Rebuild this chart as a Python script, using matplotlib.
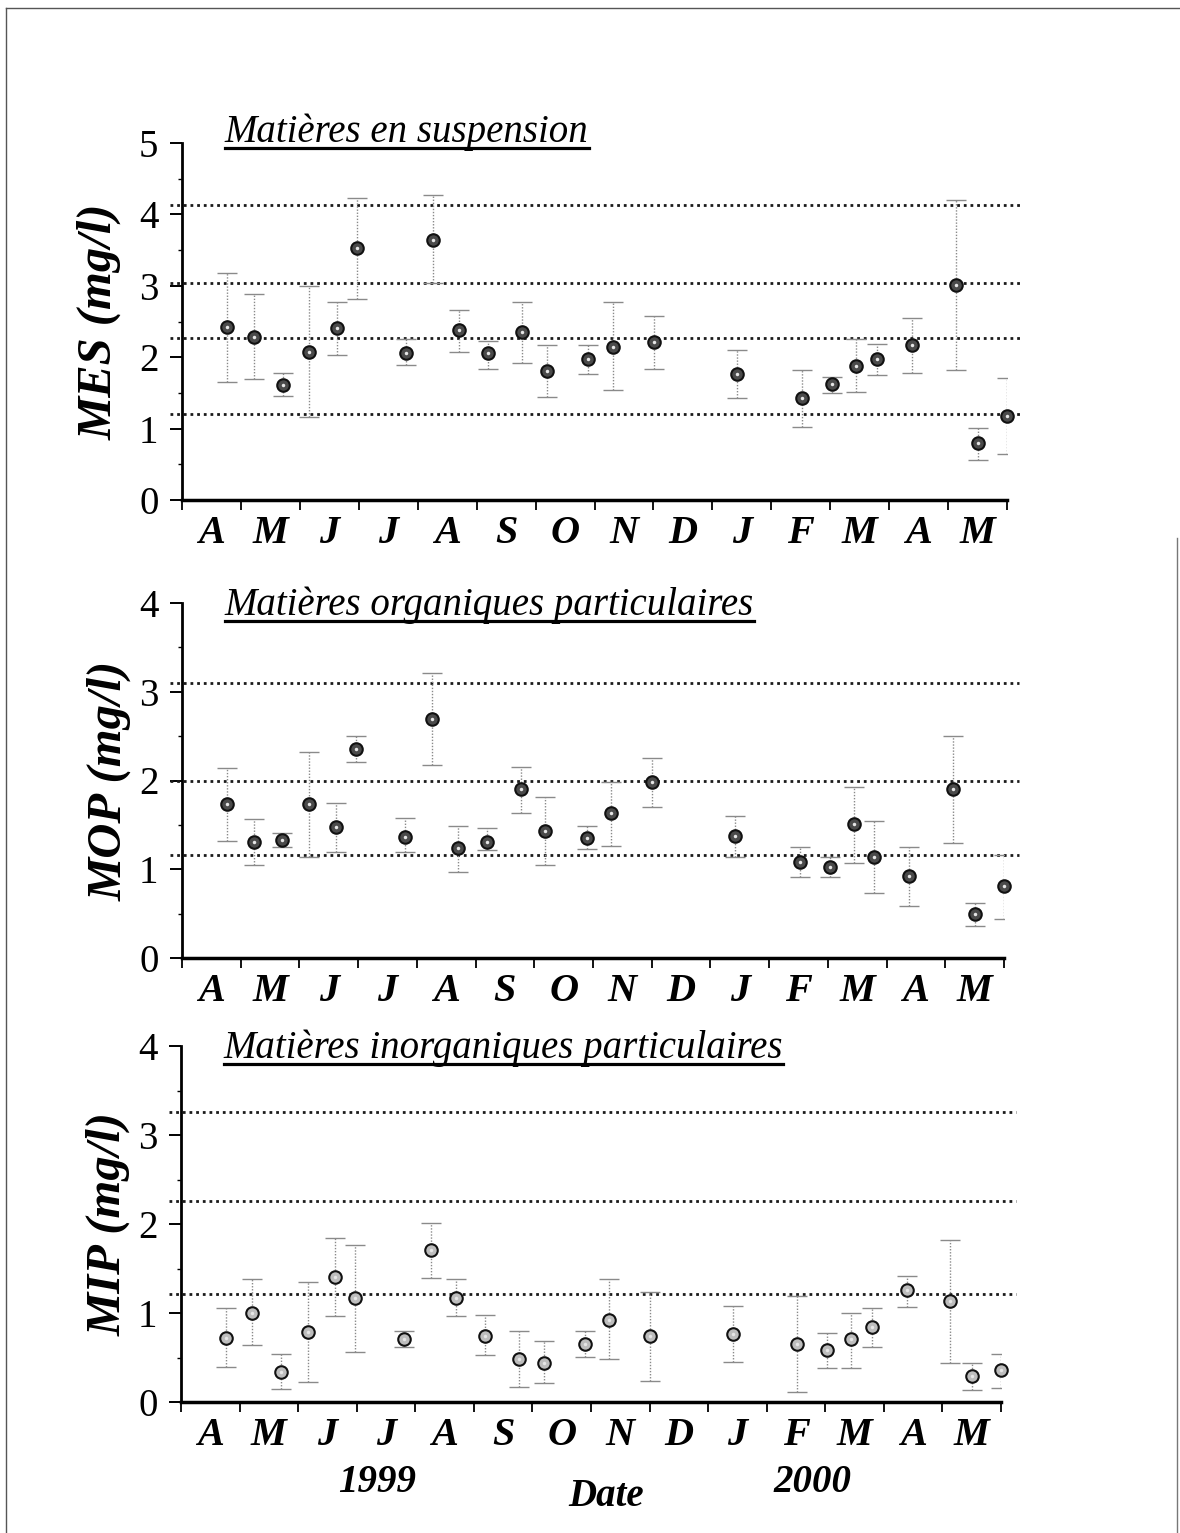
import matplotlib
matplotlib.use("Agg")
import matplotlib.pyplot as plt
import numpy as np
from matplotlib.lines import Line2D
from matplotlib.ticker import MultipleLocator, FixedLocator

plt.rcParams['font.family'] = ['Liberation Serif', 'DejaVu Serif']

# ---- data ----------------------------------------------------------------
# month labels, April 1999 -> May 2000
months = ['A', 'M', 'J', 'J', 'A', 'S', 'O', 'N', 'D', 'J', 'F', 'M', 'A', 'M']

# sampling dates, expressed in months since 1 April 1999
sample_t = [0.76, 1.22, 1.71, 2.16, 2.63, 2.97, 3.80, 4.26, 4.70, 5.19, 5.77, 6.19,
            6.89, 7.31, 8.01, 9.42, 10.52, 11.03, 11.44, 11.79, 12.39, 13.13, 13.51, 14.0]

# MES : matieres en suspension (mg/l)
mes_mean = [2.42, 2.28, 1.61, 2.07, 2.41, 3.53, 2.06, 3.64, 2.38, 2.06, 2.35, 1.81,
            1.97, 2.14, 2.21, 1.76, 1.43, 1.62, 1.88, 1.97, 2.17, 3.01, 0.80, 1.18]
mes_high = [3.18, 2.89, 1.78, 3.00, 2.77, 4.23, 2.25, 4.27, 2.66, 2.22, 2.77, 2.17,
            2.17, 2.77, 2.58, 2.10, 1.82, 1.72, 2.25, 2.19, 2.55, 4.20, 1.01, 1.71]
mes_low = [1.65, 1.69, 1.46, 1.16, 2.03, 2.82, 1.89, 3.04, 2.07, 1.84, 1.92, 1.44,
           1.76, 1.54, 1.83, 1.43, 1.02, 1.50, 1.51, 1.75, 1.78, 1.82, 0.56, 0.64]
mes_lines = [4.13, 3.04, 2.27, 1.20]

# MOP : matieres organiques particulaires (mg/l)
mop_mean = [1.74, 1.31, 1.33, 1.74, 1.48, 2.35, 1.36, 2.69, 1.24, 1.31, 1.90, 1.43,
            1.35, 1.63, 1.98, 1.37, 1.08, 1.03, 1.51, 1.14, 0.92, 1.90, 0.50, 0.81]
mop_high = [2.14, 1.57, 1.41, 2.32, 1.75, 2.50, 1.58, 3.21, 1.49, 1.46, 2.15, 1.81,
            1.49, 1.98, 2.25, 1.60, 1.25, 1.14, 1.93, 1.54, 1.25, 2.50, 0.62, 1.16]
mop_low = [1.32, 1.05, 1.25, 1.14, 1.19, 2.21, 1.19, 2.17, 0.97, 1.22, 1.63, 1.05,
           1.23, 1.26, 1.70, 1.14, 0.91, 0.91, 1.07, 0.73, 0.59, 1.30, 0.36, 0.44]
mop_lines = [3.10, 2.00, 1.16]

# MIP : matieres inorganiques particulaires (mg/l)
mip_mean = [0.72, 1.00, 0.34, 0.79, 1.40, 1.17, 0.71, 1.71, 1.17, 0.74, 0.48, 0.44,
            0.65, 0.92, 0.74, 0.76, 0.65, 0.58, 0.71, 0.84, 1.26, 1.13, 0.29, 0.36]
mip_high = [1.06, 1.38, 0.54, 1.35, 1.84, 1.76, 0.80, 2.01, 1.38, 0.98, 0.80, 0.68,
            0.80, 1.38, 1.24, 1.08, 1.19, 0.78, 1.00, 1.06, 1.42, 1.82, 0.44, 0.54]
mip_low = [0.39, 0.64, 0.15, 0.22, 0.97, 0.56, 0.62, 1.39, 0.97, 0.53, 0.17, 0.21,
           0.51, 0.48, 0.24, 0.45, 0.11, 0.38, 0.38, 0.62, 1.07, 0.44, 0.13, 0.16]
mip_lines = [3.26, 2.26, 1.21]

titles = ['Matières en suspension',
          'Matières organiques particulaires',
          'Matières inorganiques particulaires']
ylabels = ['MES (mg/l)', 'MOP (mg/l)', 'MIP (mg/l)']
years = ['1999', '2000']

# ---- figure --------------------------------------------------------------
W, H = 1180, 1533
fig = plt.figure(figsize=(W / 100, H / 100), dpi=100)
fig.patch.set_facecolor('white')


def add_px_axes(x0, x1, ytop, ybot):
    return fig.add_axes([x0 / W, 1 - ybot / H, (x1 - x0) / W, (ybot - ytop) / H])


# layout of the three panels (pixels): x0, x1, y_top, y_bottom, ymax,
# ylabel x (axes frac), title baseline (axes frac), marker face colour
panels = [
    (182, 1007, 143, 500, 5, -0.100, 1.003, '#4a4a4a'),
    (182, 1004, 603, 958, 4, -0.088, 0.966, '#4a4a4a'),
    (181, 1001, 1046, 1402, 4, -0.089, 0.966, '#bdbdbd'),
]
series = [(mes_mean, mes_low, mes_high, mes_lines),
          (mop_mean, mop_low, mop_high, mop_lines),
          (mip_mean, mip_low, mip_high, mip_lines)]

title_artists = []
for i, (x0, x1, yt, yb, ymax, ylx, tty, mface) in enumerate(panels):
    ax = add_px_axes(x0, x1, yt, yb)
    mean, low, high, levels = [np.array(s) for s in series[i][:3]] + [series[i][3]]

    ax.set_xlim(0, len(months))
    ax.set_ylim(0, ymax)

    # horizontal dotted reference lines
    for lvl in levels:
        ax.axhline(lvl, xmin=-0.015, xmax=1.018, color='#1a1a1a', lw=2.0,
                   ls=(0, (1, 1.4)), clip_on=False, zorder=2)

    # error bars (dotted, grey)
    eb = ax.errorbar(sample_t, mean, yerr=[mean - low, high - mean], fmt='none',
                     ecolor='#8a8a8a', elinewidth=1.0, capsize=7, capthick=1.0,
                     zorder=3)
    eb[2][0].set_linestyle((0, (1, 1.2)))

    ax.plot(sample_t, mean, 'o', ms=9, mfc=mface, mec='#111111', mew=1.5,
            zorder=5, clip_on=False)
    ax.plot(sample_t, mean, 'o', ms=2.5, mfc='#e6e6e6', mec='none',
            zorder=6, clip_on=False)

    # axes styling
    for side in ('top', 'right'):
        ax.spines[side].set_visible(False)
    ax.spines['left'].set_linewidth(2.0)
    ax.spines['bottom'].set_linewidth(2.5)

    ax.yaxis.set_major_locator(MultipleLocator(1))
    ax.yaxis.set_minor_locator(MultipleLocator(0.5))
    ax.tick_params(axis='y', which='major', length=9, width=1.4, pad=8,
                   labelsize=28)
    ax.tick_params(axis='y', which='minor', length=3, width=1.0)

    ax.xaxis.set_major_locator(MultipleLocator(1))
    ax.xaxis.set_minor_locator(FixedLocator(np.arange(len(months)) + 0.5))
    ax.xaxis.set_major_formatter(plt.NullFormatter())
    ax.set_xticklabels(months, minor=True)
    ax.tick_params(axis='x', which='major', length=7, width=1.3, direction='out')
    ax.tick_params(axis='x', which='minor', length=0, pad=11, labelsize=29)
    for lab in ax.get_xticklabels(minor=True):
        lab.set_fontweight('bold')
        lab.set_fontstyle('italic')

    ax.set_ylabel(ylabels[i], fontsize=35, fontweight='bold', fontstyle='italic',
                  va='center')
    ax.yaxis.set_label_coords(ylx, 0.5)

    t = ax.text(0.052, tty, titles[i], transform=ax.transAxes, fontsize=28,
                fontstyle='italic', va='baseline', ha='left')
    title_artists.append((ax, t, tty))

# year and axis caption under the last panel
fig.text(377 / W, 1 - 1482 / H, years[0], fontsize=28, fontweight='bold',
         fontstyle='italic', ha='center', va='center')
fig.text(812 / W, 1 - 1482 / H, years[1], fontsize=28, fontweight='bold',
         fontstyle='italic', ha='center', va='center')
fig.text(606 / W, 1 - 1497 / H, 'Date', fontsize=28, fontweight='bold',
         fontstyle='italic', ha='center', va='center')

# underline the titles
fig.canvas.draw()
renderer = fig.canvas.get_renderer()
for ax, t, tty in title_artists:
    bb = t.get_window_extent(renderer)
    base = ax.transAxes.transform((0, tty))[1]
    yline = (base - 6) / H
    fig.add_artist(Line2D([bb.x0 / W, bb.x1 / W], [yline, yline],
                          color='black', lw=2.3))

# scanned page border
fig.add_artist(Line2D([6 / W, 6 / W], [0, 1 - 8 / H], color='#555555', lw=1.0))
fig.add_artist(Line2D([6 / W, 1], [1 - 8 / H, 1 - 8 / H], color='#555555', lw=1.0))
fig.add_artist(Line2D([1177 / W, 1177 / W], [0, 1 - 538 / H], color='#777777', lw=1.0))

fig.savefig('out.png', dpi=100, facecolor='white')
